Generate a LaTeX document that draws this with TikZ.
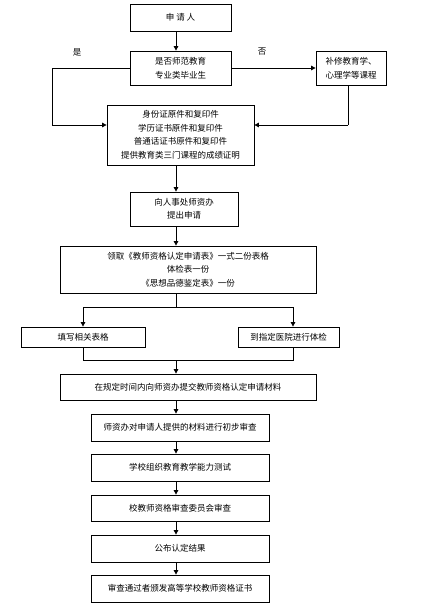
\documentclass[tikz,border=0pt]{standalone}
\usepackage{fontspec}
\setmainfont{Noto Sans CJK SC}
\usepackage{tikz}
\usetikzlibrary{positioning,arrows.meta}

\begin{document}
\begin{tikzpicture}[
    x=1pt, y=-1pt,
    >={Triangle[length=4.5pt,width=4.5pt]},
    box/.style={rectangle, draw=black, line width=0.8pt, inner sep=1pt, align=center, font=\fontsize{8.5}{13.5}\selectfont},
    arrow/.style={->, line width=0.8pt, draw=black},
    line/.style={line width=0.8pt, draw=black},
    label/.style={font=\fontsize{8.5}{10}\selectfont}
]
\useasboundingbox (0,0) rectangle (424,608);

% Top: applicant and branch
\node[box, minimum width=101pt, minimum height=27pt] (apply) at (180.5,17.5) {申 请 人};
\node[box, minimum width=101pt, minimum height=34pt] (normal) at (180.5,68) {是否师范教育\\专业类毕业生};
\node[box, minimum width=70pt, minimum height=34pt] (supp) at (351,68) {补修教育学、\\心理学等课程};
\node[box, minimum width=147pt, minimum height=60pt] (docs) at (180.5,135) {身份证原件和复印件\\学历证书原件和复印件\\普通话证书原件和复印件\\提供教育类三门课程的成绩证明};

% Application and forms
\node[box, minimum width=108pt, minimum height=34pt] (office) at (184,209) {向人事处师资办\\提出申请};
\node[box, minimum width=256pt, minimum height=47pt] (forms) at (188,269.5) {领取《教师资格认定申请表》一式二份表格\\体检表一份\\《思想品德鉴定表》一份};
\node[box, minimum width=124pt, minimum height=20pt] (fill) at (83,337) {填写相关表格};
\node[box, minimum width=101pt, minimum height=20pt] (exam) at (288.5,337) {到指定医院进行体检};

% Review chain
\node[box, minimum width=256pt, minimum height=26pt] (submit) at (188,387) {在规定时间内向师资办提交教师资格认定申请材料};
\node[box, minimum width=178pt, minimum height=27pt] (prelim) at (180,427.5) {师资办对申请人提供的材料进行初步审查};
\node[box, minimum width=178pt, minimum height=27pt] (test) at (180,467.5) {学校组织教育教学能力测试};
\node[box, minimum width=178pt, minimum height=26pt] (committee) at (180,508) {校教师资格审查委员会审查};
\node[box, minimum width=178pt, minimum height=27pt] (announce) at (180,548.5) {公布认定结果};
\node[box, minimum width=178pt, minimum height=27pt] (cert) at (180,588.5) {审查通过者颁发高等学校教师资格证书};

% Labels
\node[label] (yes) at (77,52) {是};
\node[label] (no) at (262,52) {否};

% Helper coordinates
\coordinate (spine) at (176,0);
\coordinate (yesturn) at (52,125);
\coordinate (noturn) at (348,125);
\coordinate (split) at (176,307);
\coordinate (merge) at (176,360);
\coordinate (fillx) at (83,0);
\coordinate (examx) at (293,0);

% Arrows along the spine
\foreach \a/\b in {apply/normal, docs/office, office/forms, submit/prelim, prelim/test, test/committee, committee/announce, announce/cert}
    \draw[arrow] (\a.south -| spine) -- (\b.north -| spine);

% Yes / no branches
\draw[line] (normal.west) -| (yesturn);
\draw[arrow] (yesturn) -- (yesturn -| docs.west);
\draw[arrow] (normal.east) -- (supp.west);
\draw[line] (supp.south -| noturn) -- (noturn);
\draw[arrow] (noturn) -- (noturn -| docs.east);

% Split to two forms
\draw[line] (forms.south -| spine) -- (split);
\draw[line] (split -| fillx) -- (split -| examx);
\draw[arrow] (split -| fillx) -- (fill.north -| fillx);
\draw[arrow] (split -| examx) -- (exam.north -| examx);

% Merge back
\draw[line] (fill.south -| fillx) -- (merge -| fillx) -- (merge -| examx) -- (exam.south -| examx);
\draw[arrow] (merge) -- (submit.north -| spine);

\end{tikzpicture}
\end{document}
